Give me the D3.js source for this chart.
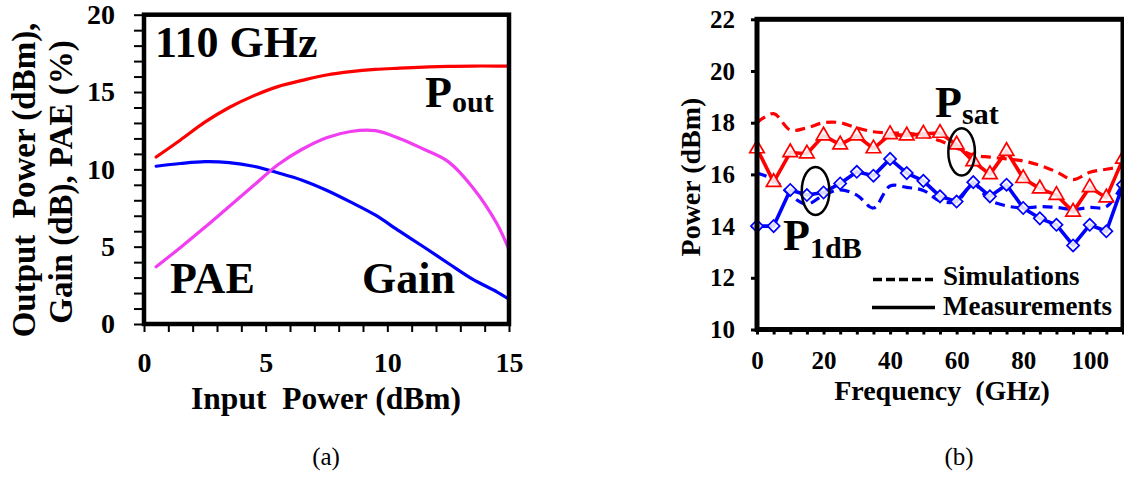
<!DOCTYPE html>
<html>
<head>
<meta charset="utf-8">
<script src="https://cdn.jsdelivr.net/npm/d3@7"></script>
<style>
  html, body { margin: 0; padding: 0; background: #fff; }
  svg { display: block; }
  text { font-family: "Liberation Serif", "Times New Roman", serif; }
</style>
</head>
<body>
<svg id="fig" width="1124" height="477"></svg>
<script>
// ---- (a) 110 GHz power sweep ----
const inputPower = [0.5, 1.5, 2.5, 3.5, 4.5, 5.5, 6.5, 7.5, 8.5, 9.5, 10.5, 11.5, 12.5, 13.5, 14.5, 15];
const poutDbm = [10.8, 11.9, 13.05, 14.0, 14.75, 15.35, 15.75, 16.1, 16.32, 16.46, 16.54, 16.61, 16.66, 16.68, 16.68, 16.68];
const gainDb  = [10.2, 10.38, 10.5, 10.44, 10.2, 9.78, 9.3, 8.65, 7.88, 7.05, 6.0, 4.98, 3.93, 2.9, 2.08, 1.6];
const paePct  = [3.7, 4.95, 6.25, 7.6, 8.95, 10.3, 11.3, 12.05, 12.45, 12.5, 12.0, 11.3, 10.5, 8.85, 6.5, 4.8];
const aXTicks = [0, 5, 10, 15];
const aYTicks = [0, 5, 10, 15, 20];

// ---- (b) power versus frequency ----
const freqGHz = [0, 5, 10, 15, 20, 25, 30, 35, 40, 45, 50, 55, 60, 65, 70, 75, 80, 85, 90, 95, 100, 105, 110];
const psatSim  = [18.0, 18.35, 17.72, 17.8, 18.0, 18.0, 17.8, 17.65, 17.6, 17.6, 17.5, 17.3, 17.02, 16.75, 16.67, 16.6, 16.52, 16.35, 16.1, 15.8, 16.08, 16.2, 16.3];
const psatMeas = [17.0, 15.7, 16.85, 16.8, 17.5, 17.15, 17.5, 17.0, 17.55, 17.5, 17.57, 17.6, 17.15, 16.5, 16.0, 16.9, 15.85, 15.45, 15.2, 14.55, 15.5, 15.1, 16.6];
const p1dbSim  = [16.05, 15.8, 15.2, 14.85, 15.2, 15.4, 15.2, 14.7, 15.55, 15.5, 15.38, 14.98, 14.95, 15.62, 15.0, 14.78, 14.7, 14.75, 14.72, 14.65, 14.72, 14.75, 15.65];
const p1dbMeas = [14.0, 14.0, 15.4, 15.2, 15.3, 15.65, 16.1, 15.95, 16.6, 16.05, 15.75, 15.15, 14.95, 15.7, 15.15, 15.6, 14.7, 14.3, 14.05, 13.25, 14.05, 13.8, 15.6];
const bXTicks = [0, 20, 40, 60, 80, 100];
const bYTicks = [10, 12, 14, 16, 18, 20, 22];

const svg = d3.select("#fig");
const BOLD = "bold";

// ================= panel (a) =================
const xa = d3.scaleLinear().domain([0, 15]).range([144, 509]);
const ya = d3.scaleLinear().domain([0, 20]).range([324, 14.7]);
const ga = svg.append("g");

// minor + major ticks
const aYAxis = ga.append("g").attr("transform", `translate(${xa(0)},0)`)
  .call(d3.axisLeft(ya).tickValues(d3.range(0, 21)).tickSize(10).tickPadding(19)
    .tickFormat(d => aYTicks.includes(d) ? d : ""));
const aXAxis = ga.append("g").attr("transform", `translate(0,${ya(0)})`)
  .call(d3.axisBottom(xa).tickValues(d3.range(0, 16)).tickSize(8).tickPadding(20)
    .tickFormat(d => aXTicks.includes(d) ? d : ""));
[aYAxis, aXAxis].forEach(ax => {
  ax.select(".domain").remove();
  ax.selectAll("line").attr("stroke", "#000").attr("stroke-width", 2);
  ax.selectAll("text").attr("font-family", "Liberation Serif").attr("font-weight", BOLD)
    .attr("font-size", 28).attr("fill", "#000");
});

const lineA = (vals) => d3.line().x((d, i) => xa(inputPower[i])).y(d => ya(d))
  .curve(d3.curveCatmullRom.alpha(0.5))(vals);
[[poutDbm, "#ff0000"], [gainDb, "#0000ff"], [paePct, "#f03ef0"]].forEach(([v, c]) => {
  ga.append("path").attr("d", lineA(v)).attr("fill", "none").attr("stroke", c)
    .attr("stroke-width", 3.2).attr("stroke-linecap", "round");
});

ga.append("rect").attr("x", xa(0)).attr("y", ya(20))
  .attr("width", xa(15) - xa(0)).attr("height", ya(0) - ya(20))
  .attr("fill", "none").attr("stroke", "#000").attr("stroke-width", 4.5);

const tA = (x, y, s, size, anchor) => ga.append("text").attr("x", x).attr("y", y)
  .attr("font-weight", BOLD).attr("font-size", size).attr("text-anchor", anchor || "start").text(s);
tA(155, 57, "110 GHz", 44);
tA(425, 107, "P", 44);
tA(452, 112, "out", 30);
tA(170, 293, "PAE", 44);
tA(362, 293, "Gain", 44);

tA(326, 409, "Input\u00a0\u00a0Power (dBm)", 31.5, "middle");
ga.append("text").attr("transform", "translate(35,180) rotate(-90)")
  .attr("text-anchor", "middle").attr("font-weight", BOLD).attr("font-size", 33)
  .text("Output\u00a0\u00a0Power (dBm),");
ga.append("text").attr("transform", "translate(72,182) rotate(-90)")
  .attr("text-anchor", "middle").attr("font-weight", BOLD).attr("font-size", 33)
  .text("Gain (dB), PAE (%)");
ga.append("text").attr("x", 326).attr("y", 465).attr("text-anchor", "middle")
  .attr("font-size", 25).text("(a)");

// ================= panel (b) =================
const xb = d3.scaleLinear().domain([0, 110]).range([757, 1123]);
const yb = d3.scaleLinear().domain([10, 22]).range([329.5, 19.3]);
const gb = svg.append("g");

const bYAxis = gb.append("g").attr("transform", `translate(${xb(0)},0)`)
  .call(d3.axisLeft(yb).tickValues(bYTicks).tickSize(6).tickPadding(16));
const bXAxis = gb.append("g").attr("transform", `translate(0,${yb(10)})`)
  .call(d3.axisBottom(xb).tickValues(d3.range(0, 111, 5)).tickSize(5).tickPadding(17)
    .tickFormat(d => bXTicks.includes(d) ? d : ""));
[bYAxis, bXAxis].forEach(ax => {
  ax.select(".domain").remove();
  ax.selectAll("line").attr("stroke", "#000").attr("stroke-width", 3);
  ax.selectAll("text").attr("font-family", "Liberation Serif").attr("font-weight", BOLD)
    .attr("font-size", 25).attr("fill", "#000");
});

const smooth = (vals) => d3.line().x((d, i) => xb(freqGHz[i])).y(d => yb(d))
  .curve(d3.curveCatmullRom.alpha(0.5))(vals);
const straight = (vals) => d3.line().x((d, i) => xb(freqGHz[i])).y(d => yb(d))(vals);

// simulated curves (dashed)
gb.append("path").attr("d", smooth(psatSim)).attr("fill", "none").attr("stroke", "#ff0000")
  .attr("stroke-width", 3.2).attr("stroke-dasharray", "10,6");
gb.append("path").attr("d", smooth(p1dbSim)).attr("fill", "none").attr("stroke", "#0000ff")
  .attr("stroke-width", 3.2).attr("stroke-dasharray", "10,6");
// measured curves (solid)
gb.append("path").attr("d", straight(psatMeas)).attr("fill", "none").attr("stroke", "#ff0000")
  .attr("stroke-width", 3.6).attr("stroke-linejoin", "round");
gb.append("path").attr("d", straight(p1dbMeas)).attr("fill", "none").attr("stroke", "#0000ff")
  .attr("stroke-width", 3.6).attr("stroke-linejoin", "round");

// markers: hollow triangles (Psat) and diamonds (P1dB)
const tri = d3.symbol().type(d3.symbolTriangle).size(92);
const dia = d3.symbol().type(d3.symbolSquare).size(74);
gb.selectAll(".tri").data(psatMeas).join("path").attr("class", "tri")
  .attr("d", tri).attr("transform", (d, i) => `translate(${xb(freqGHz[i])},${yb(d)})`)
  .attr("fill", "#fff").attr("fill-opacity", 0.85).attr("stroke", "#ff0000").attr("stroke-width", 1.7);
gb.selectAll(".dia").data(p1dbMeas).join("path").attr("class", "dia")
  .attr("d", dia).attr("transform", (d, i) => `translate(${xb(freqGHz[i])},${yb(d)}) rotate(45)`)
  .attr("fill", "#fff").attr("fill-opacity", 0.85).attr("stroke", "#0000ff").attr("stroke-width", 1.7);

// annotation ellipses
gb.append("ellipse").attr("cx", xb(61.5)).attr("cy", yb(16.87)).attr("rx", 13.3).attr("ry", 23.7)
  .attr("fill", "none").attr("stroke", "#000").attr("stroke-width", 2.5);
gb.append("ellipse").attr("cx", xb(17.6)).attr("cy", yb(15.36)).attr("rx", 13.8).attr("ry", 24)
  .attr("fill", "none").attr("stroke", "#000").attr("stroke-width", 2.5);

gb.append("rect").attr("x", xb(0)).attr("y", yb(22))
  .attr("width", xb(110) - xb(0)).attr("height", yb(10) - yb(22))
  .attr("fill", "none").attr("stroke", "#000").attr("stroke-width", 5);

const tB = (x, y, s, size, anchor) => gb.append("text").attr("x", x).attr("y", y)
  .attr("font-weight", BOLD).attr("font-size", size).attr("text-anchor", anchor || "start").text(s);
tB(935, 117, "P", 44);
tB(962, 124, "sat", 30);
tB(783, 250, "P", 44);
tB(810, 258, "1dB", 30);

// legend
gb.append("line").attr("x1", 873).attr("x2", 933).attr("y1", 279.5).attr("y2", 279.5)
  .attr("stroke", "#000").attr("stroke-width", 3.5).attr("stroke-dasharray", "9,4");
gb.append("line").attr("x1", 872).attr("x2", 935).attr("y1", 307.5).attr("y2", 307.5)
  .attr("stroke", "#000").attr("stroke-width", 3.5);
tB(943, 285, "Simulations", 27);
tB(943, 315, "Measurements", 27);

tB(942, 400, "Frequency\u00a0\u00a0(GHz)", 28, "middle");
gb.append("text").attr("transform", "translate(700,177) rotate(-90)")
  .attr("text-anchor", "middle").attr("font-weight", BOLD).attr("font-size", 28)
  .text("Power (dBm)");
gb.append("text").attr("x", 959).attr("y", 465).attr("text-anchor", "middle")
  .attr("font-size", 25).text("(b)");
</script>
</body>
</html>
